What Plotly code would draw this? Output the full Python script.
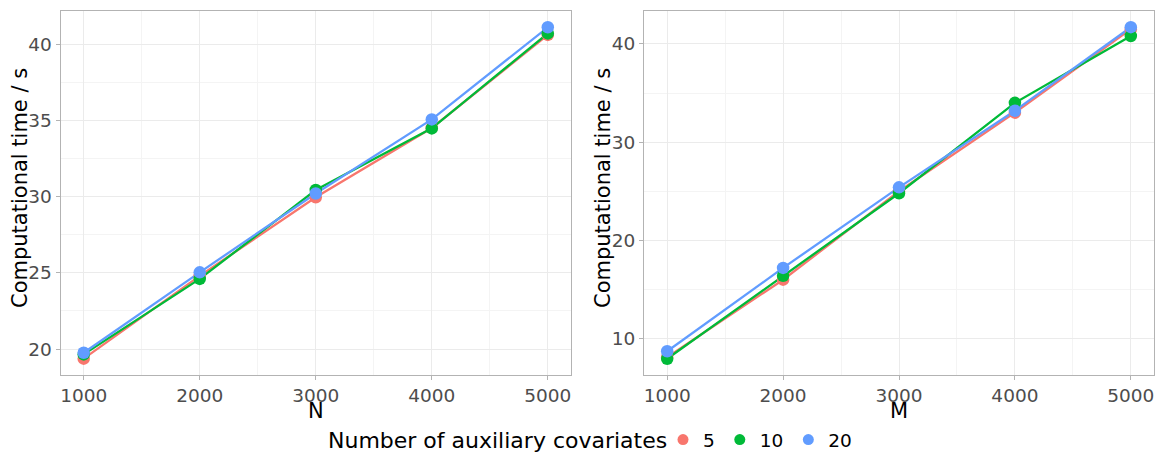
import plotly.graph_objects as go

x_vals = [1000, 2000, 3000, 4000, 5000]
groups = ["5", "10", "20"]
colors = ["#F8766D", "#00BA38", "#619CFF"]
legend_title = "Number of auxiliary covariates"

# Left panel: time vs N
time_N = {
    "5":  [19.37, 24.8, 29.95, 34.5, 40.6],
    "10": [19.65, 24.6, 30.43, 34.47, 40.7],
    "20": [19.76, 25.03, 30.2, 35.06, 41.1],
}
# Right panel: time vs M
time_M = {
    "5":  [8.1, 16.0, 25.0, 33.0, 41.5],
    "10": [7.95, 16.4, 24.8, 34.0, 40.8],
    "20": [8.72, 17.2, 25.4, 33.2, 41.7],
}

fig = go.Figure()

panels = [("x", "y", time_N), ("x2", "y2", time_M)]
for xa, ya, data in panels:
    for g, c in zip(groups, colors):
        fig.add_trace(go.Scatter(x=x_vals, y=data[g], mode="lines", xaxis=xa, yaxis=ya,
                                 line=dict(color=c, width=2.3), showlegend=False, hoverinfo="skip"))
    for g, c in zip(groups, colors):
        fig.add_trace(go.Scatter(x=x_vals, y=data[g], mode="markers", xaxis=xa, yaxis=ya,
                                 marker=dict(color=c, size=12.5), showlegend=False))

# legend entries
for g, c in zip(groups, colors):
    fig.add_trace(go.Scatter(x=[None], y=[None], mode="markers", name=g,
                             marker=dict(color=c, size=11), showlegend=True))

W, H = 1156, 452
def px_x(p): return p / W
def px_y(p): return 1 - p / H

grid = "#EBEBEB"
minor_grid = "#F4F4F4"
tickfont = dict(family="DejaVu Sans", size=18.5, color="#4D4D4D")
common_x = dict(range=[800, 5200], tickvals=x_vals, ticktext=[str(v) for v in x_vals],
                showgrid=True, gridcolor=grid, gridwidth=1,
                minor=dict(tickvals=[1500, 2500, 3500, 4500], showgrid=True, gridcolor=minor_grid, gridwidth=0.6, ticks=""),
                ticks="outside", ticklen=4, tickcolor="#B3B3B3", tickwidth=1,
                tickfont=tickfont,
                showline=True, linecolor="#B3B3B3", linewidth=1, mirror=True, zeroline=False)
common_y = dict(showgrid=True, gridcolor=grid, gridwidth=1,
                ticks="outside", ticklen=4, tickcolor="#B3B3B3", tickwidth=1,
                tickfont=tickfont,
                showline=True, linecolor="#B3B3B3", linewidth=1, mirror=True, zeroline=False)

L1, R1, L2, R2 = 60.5, 571, 644, 1154
TOP, BOT = 10.5, 375
LEG_Y = 440

fig.update_layout(
    width=W, height=H,
    margin=dict(l=0, r=0, t=0, b=0, autoexpand=False),
    paper_bgcolor="white", plot_bgcolor="white",
    font=dict(family="DejaVu Sans", color="black"),
    xaxis=dict(domain=[px_x(L1), px_x(R1)], anchor="y", **common_x),
    yaxis=dict(domain=[px_y(BOT), px_y(TOP)], anchor="x", range=[18.3, 42.2],
               tickvals=[20, 25, 30, 35, 40],
               minor=dict(tickvals=[22.5, 27.5, 32.5, 37.5], showgrid=True, gridcolor=minor_grid, gridwidth=0.6, ticks=""),
               **common_y),
    xaxis2=dict(domain=[px_x(L2), px_x(R2)], anchor="y2", **common_x),
    yaxis2=dict(domain=[px_y(BOT), px_y(TOP)], anchor="x2", range=[6.3, 43.4],
                tickvals=[10, 20, 30, 40],
                minor=dict(tickvals=[15, 25, 35], showgrid=True, gridcolor=minor_grid, gridwidth=0.6, ticks=""),
                **common_y),
    showlegend=True,
    legend=dict(orientation="h", x=px_x(663), xanchor="left", y=px_y(LEG_Y), yanchor="middle",
                font=dict(family="DejaVu Sans", size=18.5, color="black"),
                itemwidth=30, tracegroupgap=0, bgcolor="rgba(0,0,0,0)", borderwidth=0),
    annotations=[
        dict(text=legend_title, x=px_x(669), y=px_y(LEG_Y), xref="paper", yref="paper",
             showarrow=False, font=dict(size=22, color="black"), xanchor="right", yanchor="middle"),
        dict(text="N", x=(px_x(L1) + px_x(R1)) / 2, y=px_y(410.5), xref="paper", yref="paper",
             showarrow=False, font=dict(size=21, color="black"), xanchor="center", yanchor="middle"),
        dict(text="M", x=(px_x(L2) + px_x(R2)) / 2, y=px_y(410.5), xref="paper", yref="paper",
             showarrow=False, font=dict(size=21, color="black"), xanchor="center", yanchor="middle"),
        dict(text="Computational time / s", x=px_x(20), y=px_y(188), xref="paper", yref="paper",
             showarrow=False, textangle=-90, font=dict(size=21, color="black"), xanchor="center", yanchor="middle"),
        dict(text="Computational time / s", x=px_x(603), y=px_y(188), xref="paper", yref="paper",
             showarrow=False, textangle=-90, font=dict(size=21, color="black"), xanchor="center", yanchor="middle"),
    ],
)

fig.write_html("out.html", config={"displayModeBar": False},
               post_script="document.body.style.margin='0px';document.body.style.overflow='hidden';")
